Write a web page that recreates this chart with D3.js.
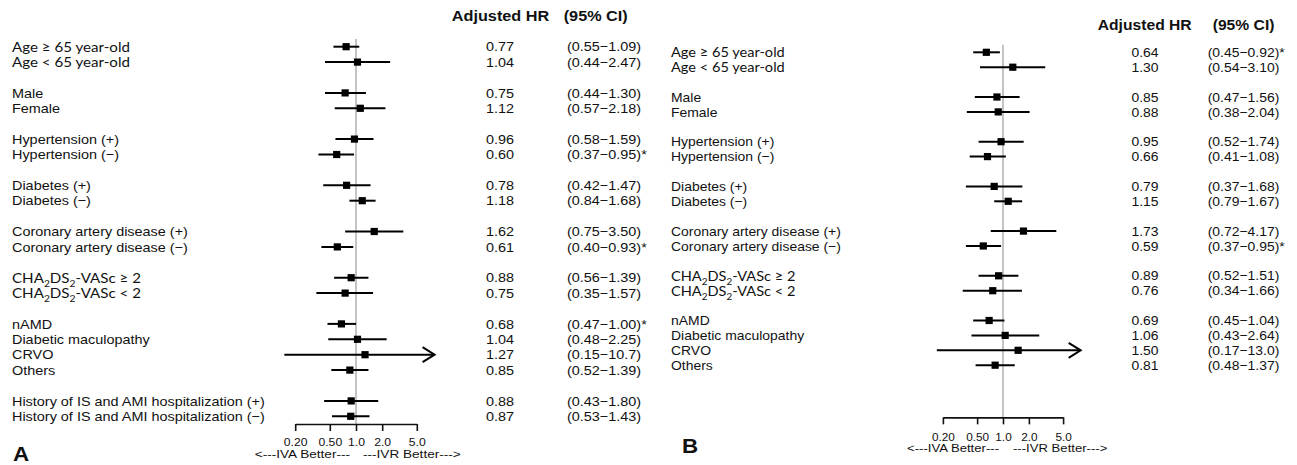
<!DOCTYPE html>
<html>
<head>
<meta charset="utf-8">
<script src="https://cdn.jsdelivr.net/npm/d3@7/dist/d3.min.js"></script>
<style>
  html, body { margin: 0; padding: 0; background: #fff; }
  svg { display: block; }
</style>
</head>
<body>
<svg id="chart" width="1297" height="465"></svg>
<script>
// ---------------- DATA ----------------
const labelsA = [
  "Age ≥ 65 year-old", "Age < 65 year-old",
  "Male", "Female",
  "Hypertension (+)", "Hypertension (−)",
  "Diabetes (+)", "Diabetes (−)",
  "Coronary artery disease (+)", "Coronary artery disease (−)",
  "CHA_2DS_2-VASc ≥ 2", "CHA_2DS_2-VASc < 2",
  "nAMD", "Diabetic maculopathy", "CRVO", "Others",
  "History of IS and AMI hospitalization (+)", "History of IS and AMI hospitalization (−)"
];
const groupSizesA = [2, 2, 2, 2, 2, 2, 4, 2];
const hrA   = [0.77, 1.04, 0.75, 1.12, 0.96, 0.60, 0.78, 1.18, 1.62, 0.61, 0.88, 0.75, 0.68, 1.04, 1.27, 0.85, 0.88, 0.87];
const lowA  = [0.55, 0.44, 0.44, 0.57, 0.58, 0.37, 0.42, 0.84, 0.75, 0.40, 0.56, 0.35, 0.47, 0.48, 0.15, 0.52, 0.43, 0.53];
const highA = [1.09, 2.47, 1.30, 2.18, 1.59, 0.95, 1.47, 1.68, 3.50, 0.93, 1.39, 1.57, 1.00, 2.25, 10.7, 1.39, 1.80, 1.43];
const sigA  = [false, false, false, false, false, true, false, false, false, true, false, false, true, false, false, false, false, false];

const labelsB = labelsA.slice(0, 16);
const groupSizesB = [2, 2, 2, 2, 2, 2, 4];
const hrB   = [0.64, 1.30, 0.85, 0.88, 0.95, 0.66, 0.79, 1.15, 1.73, 0.59, 0.89, 0.76, 0.69, 1.06, 1.50, 0.81];
const lowB  = [0.45, 0.54, 0.47, 0.38, 0.52, 0.41, 0.37, 0.79, 0.72, 0.37, 0.52, 0.34, 0.45, 0.43, 0.17, 0.48];
const highB = [0.92, 3.10, 1.56, 2.04, 1.74, 1.08, 1.68, 1.67, 4.17, 0.95, 1.51, 1.66, 1.04, 2.64, 13.0, 1.37];
const sigB  = [true, false, false, false, false, false, false, false, false, true, false, false, false, false, false, false];

const tickValues = [0.2, 0.5, 1, 2, 5];
const tickLabels = ["0.20", "0.50", "1.0", "2.0", "5.0"];
const clipMax = 8;
const headers = ["Adjusted HR", "(95% CI)"];
const betterLabels = ["<---IVA Better---", "---IVR Better--->"];
const calibriLike = ["Age", "CHA"];

// ---------------- LAYOUT ----------------
const panels = [
  { letter: "A", labels: labelsA, groups: groupSizesA, hr: hrA, low: lowA, high: highA, sig: sigA,
    labelX: 12, x0: 295.2, x1: 416.8, row0: 46.7, rowH: 15.4,
    hrX: 500, ciX: 567, headHrX: 500.5, headCiX: 563.7, headY: 16, sx: 1.0,
    letterX: 13, letterY: 460.5, leftTxtGap: 6, rightTxtGap: 7, tickDy: 18.5, betterDy: 30 },
  { letter: "B", labels: labelsB, groups: groupSizesB, hr: hrB, low: lowB, high: highB, sig: sigB,
    labelX: 671, x0: 942.9, x1: 1063.1, row0: 52.3, rowH: 14.9,
    hrX: 1145, ciX: 1207.7, headHrX: 1144.7, headCiX: 1212.7, headY: 25, sx: 0.965,
    letterX: 682, letterY: 453, leftTxtGap: 4, rightTxtGap: 10, tickDy: 20, betterDy: 31 }
];

const svg = d3.select("#chart");
const ARIAL = "'Liberation Sans', Arial, Helvetica, sans-serif";
const CALI = "Lato, 'Open Sans', sans-serif";

function sText(parent, x, y, str, o) {
  const g = parent.append("g").attr("transform", `translate(${x},${y}) scale(${o.sx},1)`);
  const t = g.append("text")
    .attr("x", 0).attr("y", 0).attr("dy", o.dy == null ? "0.36em" : o.dy)
    .attr("text-anchor", o.anchor || "start")
    .attr("font-family", o.family || ARIAL)
    .attr("font-size", o.size)
    .attr("font-weight", o.weight || "normal")
    .attr("fill", "#111");
  // parse "_x" subscripts
  const parts = str.split(/(_\d)/).filter(p => p);
  const shift = o.size * 0.28;
  let pending = 0;
  parts.forEach(p => {
    if (/^_\d$/.test(p)) {
      t.append("tspan").text(p.slice(1)).attr("font-size", o.size * 0.68).attr("dy", shift);
      pending = -shift;
    } else {
      const ts = t.append("tspan").text(p);
      if (pending) { ts.attr("dy", pending); pending = 0; }
    }
  });
  return t;
}

const fmtHR = v => v.toFixed(2);
const fmtCI = v => v >= 10 ? v.toFixed(1) : v.toFixed(2);

panels.forEach(P => {
  const g = svg.append("g");
  const x = d3.scaleLog().domain([tickValues[0], tickValues[tickValues.length - 1]]).range([P.x0, P.x1]);

  // row indices from group sizes (one blank row between groups)
  const rows = [];
  let r = 0;
  P.groups.forEach(n => { for (let i = 0; i < n; i++) rows.push(r++); r++; });
  const y = idx => P.row0 + idx * P.rowH;
  const axisY = y(24.5);

  // reference line at HR = 1
  g.append("line")
    .attr("x1", x(1)).attr("x2", x(1))
    .attr("y1", y(-0.5)).attr("y2", axisY)
    .attr("stroke", "#c4c4c4").attr("stroke-width", 2);

  // axis
  const ax = g.append("g").attr("transform", `translate(0,${axisY})`)
    .call(d3.axisBottom(x).tickValues(tickValues).tickFormat((d, i) => tickLabels[i])
      .tickSize(7).tickSizeOuter(0));
  ax.select(".domain").attr("stroke", "#111").attr("stroke-width", 1.6);
  ax.selectAll(".tick line").attr("stroke", "#111").attr("stroke-width", 1.6);
  ax.selectAll(".tick text")
    .attr("font-family", ARIAL).attr("font-size", 10).attr("fill", "#111")
    .attr("y", P.tickDy).attr("dy", "0.36em")
    .attr("transform", `scale(${1.22 * P.sx},1)`);

  sText(g, x(1) - P.leftTxtGap, axisY + P.betterDy, betterLabels[0],
    { size: 10, sx: 1.36 * P.sx, anchor: "end" });
  sText(g, x(1) + P.rightTxtGap, axisY + P.betterDy, betterLabels[1],
    { size: 10, sx: 1.36 * P.sx, anchor: "start" });

  // CI lines, arrows, squares
  P.hr.forEach((v, i) => {
    const yy = y(rows[i]);
    const hiClip = Math.min(P.high[i], clipMax);
    g.append("line")
      .attr("x1", x(P.low[i])).attr("x2", x(hiClip))
      .attr("y1", yy).attr("y2", yy)
      .attr("stroke", "#000").attr("stroke-width", 2);
    if (P.high[i] > clipMax) {
      const xe = x(clipMax);
      g.append("path")
        .attr("d", `M${xe - 12},${yy - 7.5}L${xe},${yy}L${xe - 12},${yy + 7.5}`)
        .attr("fill", "none").attr("stroke", "#000").attr("stroke-width", 2);
    }
    g.append("rect")
      .attr("x", x(v) - 3.6).attr("y", yy - 3.6)
      .attr("width", 7.2).attr("height", 7.2)
      .attr("fill", "#000");

    const lab = P.labels[i];
    const isCal = calibriLike.some(s => lab.startsWith(s));
    sText(g, P.labelX, yy, lab, {
      size: isCal ? 14 : 13, sx: (isCal ? 1.08 : 1.11) * P.sx,
      family: isCal ? CALI : ARIAL
    });
    sText(g, P.hrX, yy, fmtHR(v), { size: 13, sx: 1.11 * P.sx, anchor: "middle" });
    sText(g, P.ciX, yy, `(${fmtCI(P.low[i])}−${fmtCI(P.high[i])})` + (P.sig[i] ? "*" : ""),
      { size: 13, sx: 1.11 * P.sx });
  });

  // headers
  sText(g, P.headHrX, P.headY, headers[0], { size: 14, sx: 1.16 * P.sx, anchor: "middle", weight: "bold" });
  sText(g, P.headCiX, P.headY, headers[1], { size: 14, sx: 1.16 * P.sx, weight: "bold" });

  // panel letter
  sText(g, P.letterX, P.letterY, P.letter, { size: 20, sx: 1.12, weight: "bold", dy: 0 });
});
</script>
</body>
</html>
